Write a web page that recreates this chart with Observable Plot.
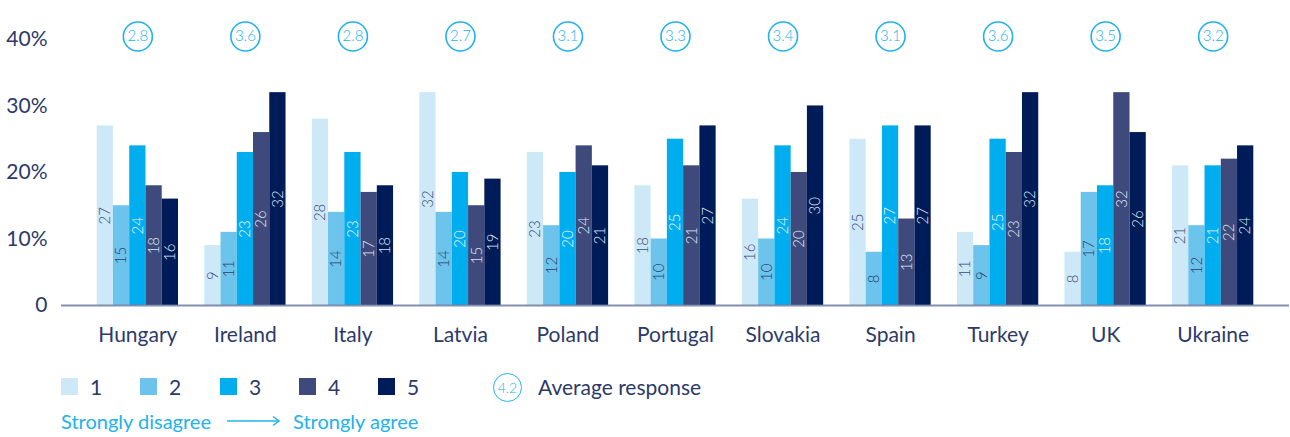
<!DOCTYPE html>
<html>
<head>
<meta charset="utf-8">
<script src="https://cdn.jsdelivr.net/npm/d3@7"></script>
<script src="https://cdn.jsdelivr.net/npm/@observablehq/plot@0.6"></script>
<style>
  html, body { margin: 0; padding: 0; background: #fff; }
  #wrap { position: relative; width: 1290px; height: 437px; font-family: Lato, "Open Sans", sans-serif; font-weight: 400; }
  #chart svg { display: block; }
  .legend { position: absolute; left: 0; top: 0; width: 1290px; height: 437px; pointer-events: none; }
  .sw { position: absolute; width: 17px; height: 17px; top: 378px; }
  .lab { position: absolute; font-size: 21px; color: #2c3a6a; line-height: 1; }
  .blue { position: absolute; font-size: 20px; color: #22b2ec; line-height: 1; }
  .ring { position: absolute; left: 493px; top: 373px; width: 27px; height: 27px; border: 1.5px solid #22b2ec; border-radius: 50%;
          font-size: 14px; font-weight: 300; color: #22b2ec; display: flex; align-items: center; justify-content: center; }
</style>
</head>
<body>
<div id="wrap">
  <div id="chart"></div>
  <div class="legend" id="legend"></div>
</div>
<script>
// Survey responses by country (% of respondents), 1 = strongly disagree … 5 = strongly agree
const countries = ["Hungary", "Ireland", "Italy", "Latvia", "Poland", "Portugal", "Slovakia", "Spain", "Turkey", "UK", "Ukraine"];
const responses = [1, 2, 3, 4, 5];
const share1 = [27, 9, 28, 32, 23, 18, 16, 25, 11, 8, 21];
const share2 = [15, 11, 14, 14, 12, 10, 10, 8, 9, 17, 12];
const share3 = [24, 23, 23, 20, 20, 25, 24, 27, 25, 18, 21];
const share4 = [18, 26, 17, 15, 24, 21, 20, 13, 23, 32, 22];
const share5 = [16, 32, 18, 19, 21, 27, 30, 27, 32, 26, 24];
const averages = [2.8, 3.6, 2.8, 2.7, 3.1, 3.3, 3.4, 3.1, 3.6, 3.5, 3.2];
const yTicks = [0, 10, 20, 30, 40];

const colors = ["#cde9f7", "#6cc4ec", "#00adee", "#3e4a7b", "#001c58"];
const labelColors = ["#3e4a7b", "#2f3d6e", "#e8f6fd", "#dfe5f2", "#dfe5f2"];
const navy = "#2c3a6a";
const sky = "#22b2ec";
const axisGrey = "#6f7ca2";

const series = [share1, share2, share3, share4, share5];
const rows = responses.flatMap((r, j) =>
  countries.map((c, i) => ({country: c, response: r, value: series[j][i]}))
);
const avgRows = countries.map((c, i) => ({country: c, avg: averages[i]}));

// layout
const width = 1290, height = 360;
const marginLeft = 61, marginRight = 1, marginTop = 7, marginBottom = 55;
const yMax = 44.8;
const padOuter = 0.21;
const step = (width - marginLeft - marginRight) / (countries.length + 2 * padOuter);
const barW = 16.26;
const inset = (step - barW) / 2;

// five side-by-side bars per country, each shifted from the band centre
const barMarks = responses.flatMap((r, j) => {
  const data = rows.filter(d => d.response === r);
  const dx = (j - 2) * barW;
  return [
    Plot.barY(data, {x: "country", y: "value", fill: colors[j], insetLeft: inset, insetRight: inset, dx}),
    Plot.text(data, {
      x: "country", y: d => d.value / 2, text: d => String(d.value), rotate: -90, dx,
      fill: labelColors[j], fontSize: 15, fontWeight: 300
    })
  ];
});

const chart = Plot.plot({
  width, height, marginLeft, marginRight, marginTop, marginBottom,
  style: {fontFamily: "Lato, 'Open Sans', sans-serif", background: "#fff", color: navy},
  x: {type: "band", domain: countries, paddingInner: 0, paddingOuter: padOuter, round: false},
  y: {domain: [0, yMax]},
  marks: [
    ...barMarks,
    Plot.axisY(yTicks, {
      tickSize: 0, tickPadding: 14, fontSize: 21, fill: navy, label: null,
      line: true, stroke: axisGrey, strokeWidth: 2,
      tickFormat: d => d === 0 ? "0" : d + "%"
    }),
    Plot.axisX({tickSize: 0, tickPadding: 22, fontSize: 21, fill: navy, label: null}),
    Plot.ruleY([0], {stroke: axisGrey, strokeWidth: 2, strokeOpacity: 0.85}),
    Plot.dot(avgRows, {x: "country", frameAnchor: "top", dy: 29, r: 14.5, stroke: sky, strokeWidth: 1.6, fill: "white"}),
    Plot.text(avgRows, {
      x: "country", frameAnchor: "top", lineAnchor: "middle", dy: 29,
      text: d => d.avg.toFixed(1), fill: sky, fontSize: 15, fontWeight: 300
    })
  ]
});
document.getElementById("chart").append(chart);

// legend
const legend = document.getElementById("legend");
const swX = [61, 140, 220, 299, 378];
responses.forEach((r, j) => {
  const s = document.createElement("div");
  s.className = "sw";
  s.style.left = swX[j] + "px";
  s.style.background = colors[j];
  legend.append(s);
  const t = document.createElement("div");
  t.className = "lab";
  t.style.left = (swX[j] + 29) + "px";
  t.style.top = "376px";
  t.textContent = r;
  legend.append(t);
});
const ring = document.createElement("div");
ring.className = "ring";
ring.textContent = "4.2";
legend.append(ring);
const avgLab = document.createElement("div");
avgLab.className = "lab";
avgLab.style.left = "538px";
avgLab.style.top = "376px";
avgLab.textContent = "Average response";
legend.append(avgLab);

const dis = document.createElement("div");
dis.className = "blue";
dis.style.left = "61px"; dis.style.top = "411px";
dis.textContent = "Strongly disagree";
legend.append(dis);
const agr = document.createElement("div");
agr.className = "blue";
agr.style.left = "293px"; agr.style.top = "411px";
agr.textContent = "Strongly agree";
legend.append(agr);

const arrow = d3.select(legend).append("svg")
  .style("position", "absolute").style("left", "225px").style("top", "414px")
  .attr("width", 58).attr("height", 14);
arrow.append("line").attr("x1", 2).attr("x2", 54).attr("y1", 7).attr("y2", 7)
  .attr("stroke", sky).attr("stroke-width", 1.5);
arrow.append("polyline").attr("points", "48,2.5 54,7 48,11.5")
  .attr("fill", "none").attr("stroke", sky).attr("stroke-width", 1.5);
</script>
</body>
</html>
